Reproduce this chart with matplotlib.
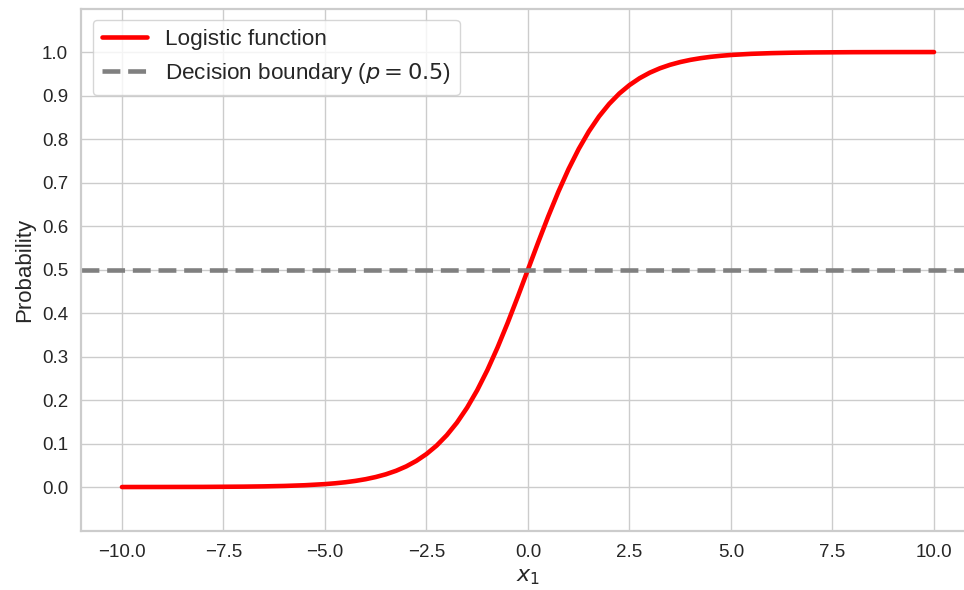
import matplotlib
matplotlib.use("Agg")
import matplotlib.pyplot as plt
import seaborn as sns

sns.set_theme(style="whitegrid")
plt.rcParams['font.family'] = ['Liberation Sans', 'DejaVu Sans']

# logistic curve, sampled along x1
x1 = [-10, -9, -8, -7.5, -7, -6.5, -6, -5.5, -5, -4.75, -4.5, -4.25, -4,
      -3.75, -3.5, -3.25, -3, -2.75, -2.5, -2.25, -2, -1.75, -1.5, -1.25,
      -1, -0.75, -0.5, -0.25, 0, 0.25, 0.5, 0.75, 1, 1.25, 1.5, 1.75, 2,
      2.25, 2.5, 2.75, 3, 3.25, 3.5, 3.75, 4, 4.25, 4.5, 4.75, 5, 5.5, 6,
      6.5, 7, 7.5, 8, 9, 10]
prob = [0.0000, 0.0001, 0.0003, 0.0006, 0.0009, 0.0015, 0.0025, 0.0041,
        0.0067, 0.0086, 0.0110, 0.0141, 0.0180, 0.0230, 0.0293, 0.0373,
        0.0474, 0.0601, 0.0759, 0.0953, 0.1192, 0.1480, 0.1824, 0.2227,
        0.2689, 0.3208, 0.3775, 0.4378, 0.5000, 0.5622, 0.6225, 0.6792,
        0.7311, 0.7773, 0.8176, 0.8520, 0.8808, 0.9047, 0.9241, 0.9399,
        0.9526, 0.9627, 0.9707, 0.9770, 0.9820, 0.9859, 0.9890, 0.9914,
        0.9933, 0.9959, 0.9975, 0.9985, 0.9991, 0.9994, 0.9997, 0.9999,
        1.0000]
threshold = 0.5
yticks = [0.0, 0.1, 0.2, 0.3, 0.4, 0.5, 0.6, 0.7, 0.8, 0.9, 1.0]

fig = plt.figure(figsize=(9.64, 5.9), dpi=100)
ax = fig.add_axes([0.0844, 0.1008, 0.9266, 0.8847])
for s in ax.spines.values():
    s.set_linewidth(1.6)

ax.plot(x1, prob, color='red', lw=3.3, label='Logistic function')
ax.axhline(threshold, color='grey', lw=3.3, linestyle=(0, (3.9, 1.7)),
           label=r'Decision boundary ($p = 0.5$)')

ax.set_xlim(-11, 11)
ax.set_ylim(-0.1, 1.1)
ax.set_xticks([-10, -7.5, -5, -2.5, 0, 2.5, 5, 7.5, 10])
ax.set_xticklabels([f"{v:.1f}".replace('-', '\u2212') for v in ax.get_xticks()])
ax.set_yticks(yticks)
ax.set_yticklabels([f"{v:.1f}" for v in yticks])
ax.tick_params(labelsize=13.5, colors='0.15')
ax.set_xlabel(r'$x_1$', fontsize=16)
ax.set_ylabel('Probability', fontsize=16, labelpad=5)
ax.legend(loc='upper left', fontsize=16.2)

fig.savefig('out.png', dpi=100)
